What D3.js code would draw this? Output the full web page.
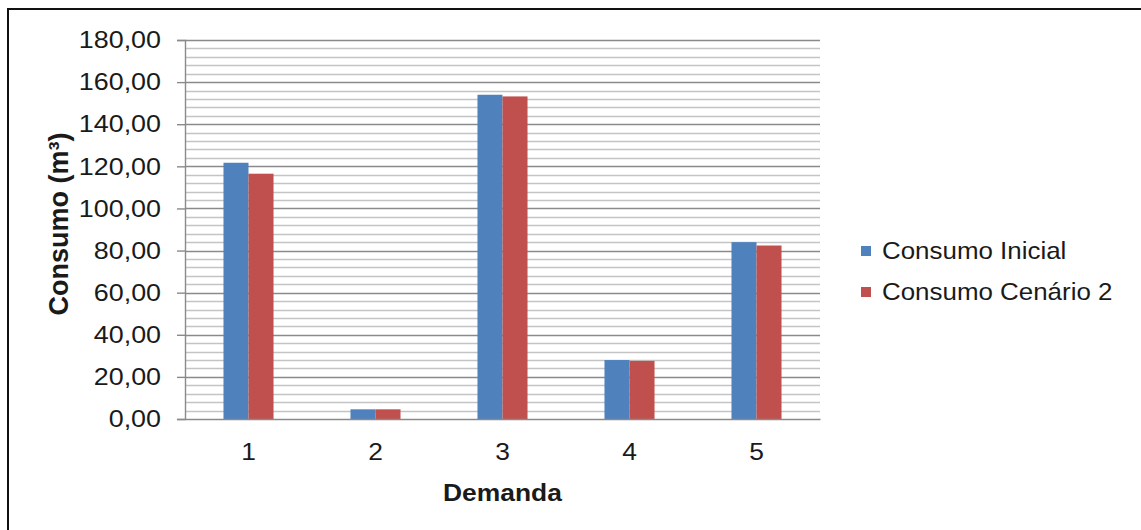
<!DOCTYPE html>
<html>
<head>
<meta charset="utf-8">
<script src="https://cdn.jsdelivr.net/npm/d3@7"></script>
<style>
  html, body { margin: 0; padding: 0; background: #fff; }
  svg { display: block; }
  text { font-family: "Liberation Sans", Arial, sans-serif; fill: #1a1a1a; }
  .sx-right { transform-box: fill-box; transform-origin: right center; transform: scaleX(1.12); }
  .sx-left { transform-box: fill-box; transform-origin: left center; transform: scaleX(1.08); }
  .sx-mid { transform-box: fill-box; transform-origin: center center; transform: scaleX(1.1); }
</style>
</head>
<body>
<svg id="chart" width="1141" height="530"></svg>
<script>
const categories = ["1", "2", "3", "4", "5"];
const seriesNames = ["Consumo Inicial", "Consumo Cenário 2"];
const consumoInicial = [121.7, 4.6, 154.0, 28.0, 84.0];
const consumoCenario2 = [116.5, 4.6, 153.2, 27.6, 82.4];
const yTicks = [0, 20, 40, 60, 80, 100, 120, 140, 160, 180];
const yMinorStep = 4;
const colors = ["#4F81BD", "#C0504D"];

const svg = d3.select("#chart");
const plot = { left: 185, right: 820, top: 40, bottom: 419 };

// outer frame
svg.append("rect").attr("x", 8).attr("y", 9).attr("width", 1200).attr("height", 600)
  .attr("fill", "none").attr("stroke", "#111").attr("stroke-width", 2);

const x0 = d3.scaleBand().domain(categories).range([plot.left, plot.right])
  .paddingInner(0.606).paddingOuter(0.303);
const x1 = d3.scaleBand().domain(seriesNames).range([0, x0.bandwidth()]);
const y = d3.scaleLinear().domain([0, 180]).range([plot.bottom, plot.top]);

const locale = d3.formatLocale({ decimal: ",", thousands: ".", grouping: [3], currency: ["R$", ""] });
const fmt = locale.format(".2f");

// minor gridlines
const minor = d3.range(0, 180 + 0.001, yMinorStep).filter(v => v % 20 !== 0);
svg.append("g").selectAll("line").data(minor).join("line")
  .attr("x1", plot.left).attr("x2", plot.right)
  .attr("y1", d => Math.round(y(d)) + 0.5).attr("y2", d => Math.round(y(d)) + 0.5)
  .attr("stroke", "#c4c4c4").attr("stroke-width", 1.4);
// major gridlines
svg.append("g").selectAll("line").data(yTicks.filter(v => v > 0)).join("line")
  .attr("x1", plot.left).attr("x2", plot.right)
  .attr("y1", d => Math.round(y(d)) + 0.5).attr("y2", d => Math.round(y(d)) + 0.5)
  .attr("stroke", "#8a8a8a").attr("stroke-width", 1.4);

// bars
const data = categories.map((c, i) => ({ cat: c, vals: [consumoInicial[i], consumoCenario2[i]] }));
const groups = svg.append("g").selectAll("g").data(data).join("g")
  .attr("transform", d => `translate(${x0(d.cat)},0)`);
groups.selectAll("rect").data(d => d.vals.map((v, j) => ({ s: seriesNames[j], v, j }))).join("rect")
  .attr("x", d => x1(d.s)).attr("width", x1.bandwidth())
  .attr("y", d => y(d.v)).attr("height", d => y(0) - y(d.v))
  .attr("fill", d => colors[d.j]);

// y axis
const yAxis = d3.axisLeft(y).tickValues(yTicks).tickFormat(fmt).tickSize(8).tickPadding(16);
const gy = svg.append("g").attr("transform", `translate(${plot.left},0)`).call(yAxis);
gy.select(".domain").attr("stroke", "#8a8a8a").attr("stroke-width", 1.4);
gy.selectAll(".tick line").attr("stroke", "#8a8a8a").attr("stroke-width", 1.4);
gy.selectAll(".tick text").attr("font-size", 24).attr("fill", "#1a1a1a").attr("class", "sx-right")
  .style("font-family", '"Liberation Sans", Arial, sans-serif');

// x axis
const xAxis = d3.axisBottom(x0).tickSize(0).tickPadding(24);
const gx = svg.append("g").attr("transform", `translate(0,${plot.bottom})`).call(xAxis);
gx.select(".domain").attr("stroke", "#8a8a8a").attr("stroke-width", 1.4);
gx.selectAll(".tick text").attr("font-size", 24).attr("fill", "#1a1a1a").attr("class", "sx-mid")
  .style("font-family", '"Liberation Sans", Arial, sans-serif');

// axis titles
svg.append("text").attr("x", (plot.left + plot.right) / 2).attr("y", 501)
  .attr("text-anchor", "middle").attr("font-size", 24).attr("font-weight", "bold")
  .attr("class", "sx-mid")
  .text("Demanda");
svg.append("text").attr("transform", `translate(68,224) rotate(-90)`)
  .attr("text-anchor", "middle").attr("font-size", 27).attr("font-weight", "bold")
  .text("Consumo (m³)");

// legend
const legend = svg.append("g").attr("transform", "translate(861,246)");
const li = legend.selectAll("g").data(seriesNames).join("g")
  .attr("transform", (d, i) => `translate(0,${i * 41})`);
li.append("rect").attr("width", 10).attr("height", 10).attr("fill", (d, i) => colors[i]);
li.append("text").attr("x", 21).attr("y", 5).attr("dy", "0.35em")
  .attr("font-size", 24).attr("class", "sx-left").text(d => d);
</script>
</body>
</html>
